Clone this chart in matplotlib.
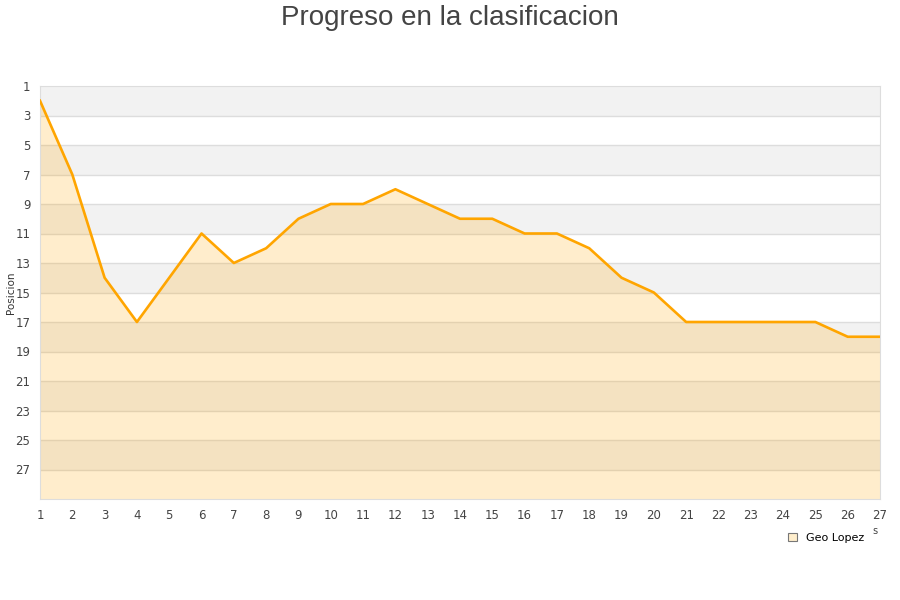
import matplotlib
matplotlib.use("Agg")
import matplotlib.pyplot as plt
from matplotlib.patches import Patch

jornadas = list(range(1, 28))
posiciones = [2, 7, 14, 17, 14, 11, 13, 12, 10, 9, 9, 8, 9, 10, 10, 11, 11, 12, 14, 15, 17, 17, 17, 17, 17, 18, 18]
y_ticks = list(range(1, 28, 2))
title = "Progreso en la clasificacion"
serie = "Geo Lopez"

fig = plt.figure(figsize=(9, 6), dpi=100)
ax = fig.add_axes([40/900, 1-499/600, 840/900, 413/600])

ymin, ymax = 1, 29
# alternating bands
for i, start in enumerate(range(1, 29, 2)):
    if i % 2 == 0:
        ax.axhspan(start, start + 2, color="#F2F2F2", zorder=0, lw=0)
for t in range(3, 29, 2):
    ax.axhline(t, color="#DDDDDD", lw=1, zorder=1)

ax.fill_between(jornadas, posiciones, ymax, color="#FFA500", alpha=0.2, lw=0, zorder=2)
ax.plot(jornadas, posiciones, color="#FFA500", lw=1.9, zorder=3)

ax.set_xlim(1, 27)
ax.set_ylim(ymax, ymin)
ax.set_xticks(jornadas)
ax.set_yticks(y_ticks)
ax.tick_params(axis="both", length=0, labelsize=8.5, colors="#444444")
ax.tick_params(axis="x", pad=7)
ax.tick_params(axis="y", pad=7)
for s in ax.spines.values():
    s.set_color("#DDDDDD")
ax.set_ylabel("Posicion", fontsize=7.5, color="#333333")
ax.yaxis.set_label_coords(-24/840, 0.5)

fig.text(0.5, 1-18/600, title, ha="center", va="center", fontsize=20,
         color="#444444", family="Liberation Sans")

fig.text(875/900, 1-531/600, "s", ha="center", va="center", fontsize=7, color="#444444")

h = Patch(facecolor="#FFEECC", edgecolor="#777777", lw=0.8)
ax.legend([h], [serie], loc="center left", bbox_to_anchor=(778/900, 1-538/600),
          bbox_transform=fig.transFigure, frameon=False, fontsize=8,
          handlelength=0.8, handleheight=0.8, handletextpad=0.8)

fig.savefig("out.png", dpi=100)
